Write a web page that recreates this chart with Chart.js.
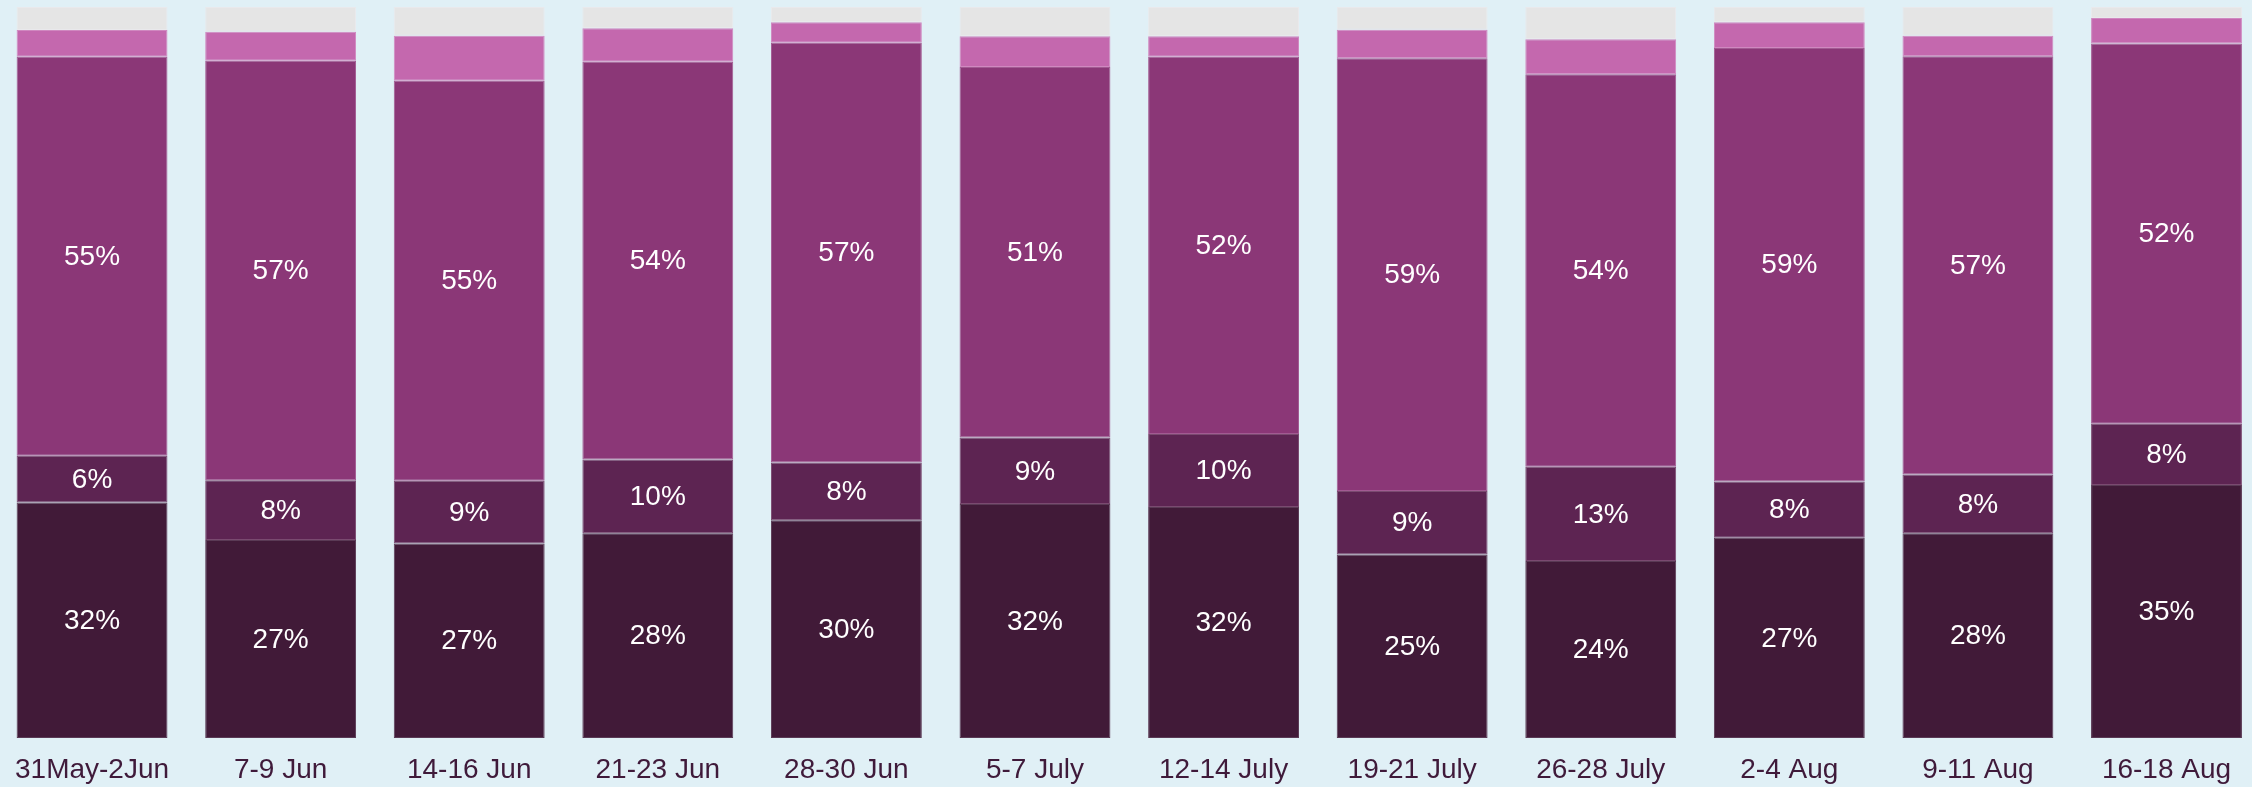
<!DOCTYPE html>
<html>
<head>
<meta charset="utf-8">
<script src="https://cdn.jsdelivr.net/npm/chart.js@4"></script>
<style>
  html, body { margin: 0; padding: 0; background: #e0f0f6; overflow: hidden; }
  canvas { display: block; }
</style>
</head>
<body>
<canvas id="c" width="2252" height="787"></canvas>
<script>
const categories = ["31May-2Jun", "7-9 Jun", "14-16 Jun", "21-23 Jun", "28-30 Jun", "5-7 July", "12-14 July", "19-21 July", "26-28 July", "2-4 Aug", "9-11 Aug", "16-18 Aug"];
const seriesDark   = [32.2, 27.1, 26.6, 28.0, 29.8, 32.0, 31.6, 25.1, 24.2, 27.4, 28.0, 34.6];
const seriesMid    = [6.4, 8.15, 8.6, 10.1, 7.9, 9.1, 10.0, 8.7, 12.9, 7.7, 8.05, 8.4];
const seriesPurple = [54.6, 57.4, 54.7, 54.4, 57.4, 50.7, 51.6, 59.2, 53.7, 59.3, 57.2, 52.0];
const seriesPink   = [3.65, 3.95, 6.15, 4.6, 2.8, 4.2, 2.8, 3.9, 4.8, 3.5, 2.8, 3.5];
const seriesGray   = [3.15, 3.4, 3.95, 2.9, 2.1, 4.0, 4.0, 3.1, 4.4, 2.1, 3.95, 1.5];

const colors = ["#411a38", "#5d2452", "#8b3777", "#c468ae", "#e5e5e5"];
const borders = ["#5a3a55", "#7a4a70", "#a25a92", "#d088c0", "#e9e9ec"];
const labelled = [true, true, true, false, false];

const labelPlugin = {
  id: 'segLabels',
  afterDatasetsDraw(chart) {
    const ctx = chart.ctx;
    ctx.save();
    ctx.font = '28px "Liberation Sans", Arial, sans-serif';
    ctx.fillStyle = '#ffffff';
    ctx.textAlign = 'center';
    ctx.textBaseline = 'middle';
    chart.data.datasets.forEach((ds, di) => {
      if (!labelled[di]) return;
      const meta = chart.getDatasetMeta(di);
      meta.data.forEach((el, i) => {
        const v = ds.data[i];
        const cy = (el.y + el.base) / 2;
        ctx.fillText(Math.round(v) + '%', el.x, cy + 1);
      });
    });
    ctx.restore();
  }
};

const mk = (data, i) => ({
  data: data,
  backgroundColor: colors[i],
  borderColor: borders[i],
  borderWidth: 1,
  borderSkipped: false,
  categoryPercentage: 0.8,
  barPercentage: 1.0,
  clip: false
});

new Chart(document.getElementById('c'), {
  type: 'bar',
  data: {
    labels: categories,
    datasets: [mk(seriesDark, 0), mk(seriesMid, 1), mk(seriesPurple, 2), mk(seriesPink, 3), mk(seriesGray, 4)]
  },
  options: {
    responsive: false,
    maintainAspectRatio: false,
    devicePixelRatio: 1,
    animation: false,
    layout: { padding: { left: 88.5, right: 85.5, top: 7, bottom: -14.6 } },
    plugins: { legend: { display: false }, tooltip: { enabled: false } },
    scales: {
      x: {
        stacked: true,
        offset: false,
        grid: { display: false, drawTicks: false },
        border: { display: false },
        ticks: {
          color: '#3f1a3a',
          padding: 15,
          maxRotation: 0,
          autoSkip: false,
          font: { family: '"Liberation Sans", Arial, sans-serif', size: 28 }
        }
      },
      y: {
        stacked: true,
        display: false,
        min: 0,
        max: 100
      }
    }
  },
  plugins: [labelPlugin]
});
</script>
</body>
</html>
